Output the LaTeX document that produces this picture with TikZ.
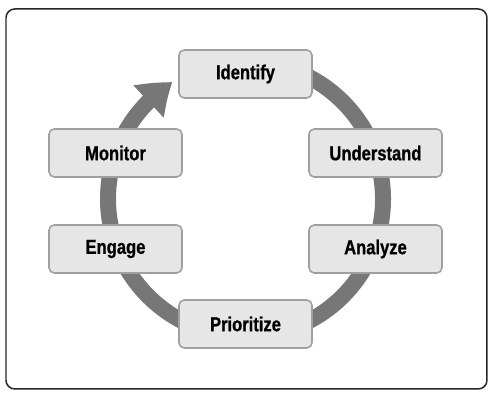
\documentclass[tikz,border=0pt]{standalone}
\usepackage{fontspec}
\newfontfamily\stagefont[FakeStretch=0.82,BoldFeatures={FakeBold=0.8}]{Liberation Sans}
\usepackage{tikz}
\usetikzlibrary{arrows.meta,bending}

\definecolor{ringgray}{HTML}{777777}
\definecolor{boxfill}{HTML}{E6E6E6}
\definecolor{boxline}{HTML}{A0A0A0}

\begin{document}
\begin{tikzpicture}[
  stage/.style={draw=boxline, line width=0.9pt, fill=boxfill, rounded corners=3pt,
    minimum width=2.66cm, minimum height=0.96cm, font=\stagefont\bfseries\fontsize{11.5}{13}\selectfont},
  ring/.style={ringgray, line width=0.32cm, -{Triangle[width=0.84cm,length=0.62cm,bend]}}
]
\useasboundingbox (-4.91,-4.02) rectangle (4.95,3.98);
\draw [line width=0.85pt, rounded corners=5pt, black!85] (-4.79,-3.8) rectangle (4.83,3.8);
\coordinate (RINGSTART) at (100:2.75);
\draw [ring] (RINGSTART) arc[start angle=100, end angle=-238, radius=2.75];
\node [stage] (IDENTIFY) at (0,2.5) {Identify};
\node [stage] (UNDERSTAND) at (2.6,0.92) {Understand};
\node [stage] (ANALYZE) at (2.6,-1.0) {Analyze};
\node [stage] (PRIORITIZE) at (0,-2.5) {Prioritize};
\node [stage] (ENGAGE) at (-2.6,-1.0) {Engage};
\node [stage] (MONITOR) at (-2.6,0.92) {Monitor};
\end{tikzpicture}
\end{document}
